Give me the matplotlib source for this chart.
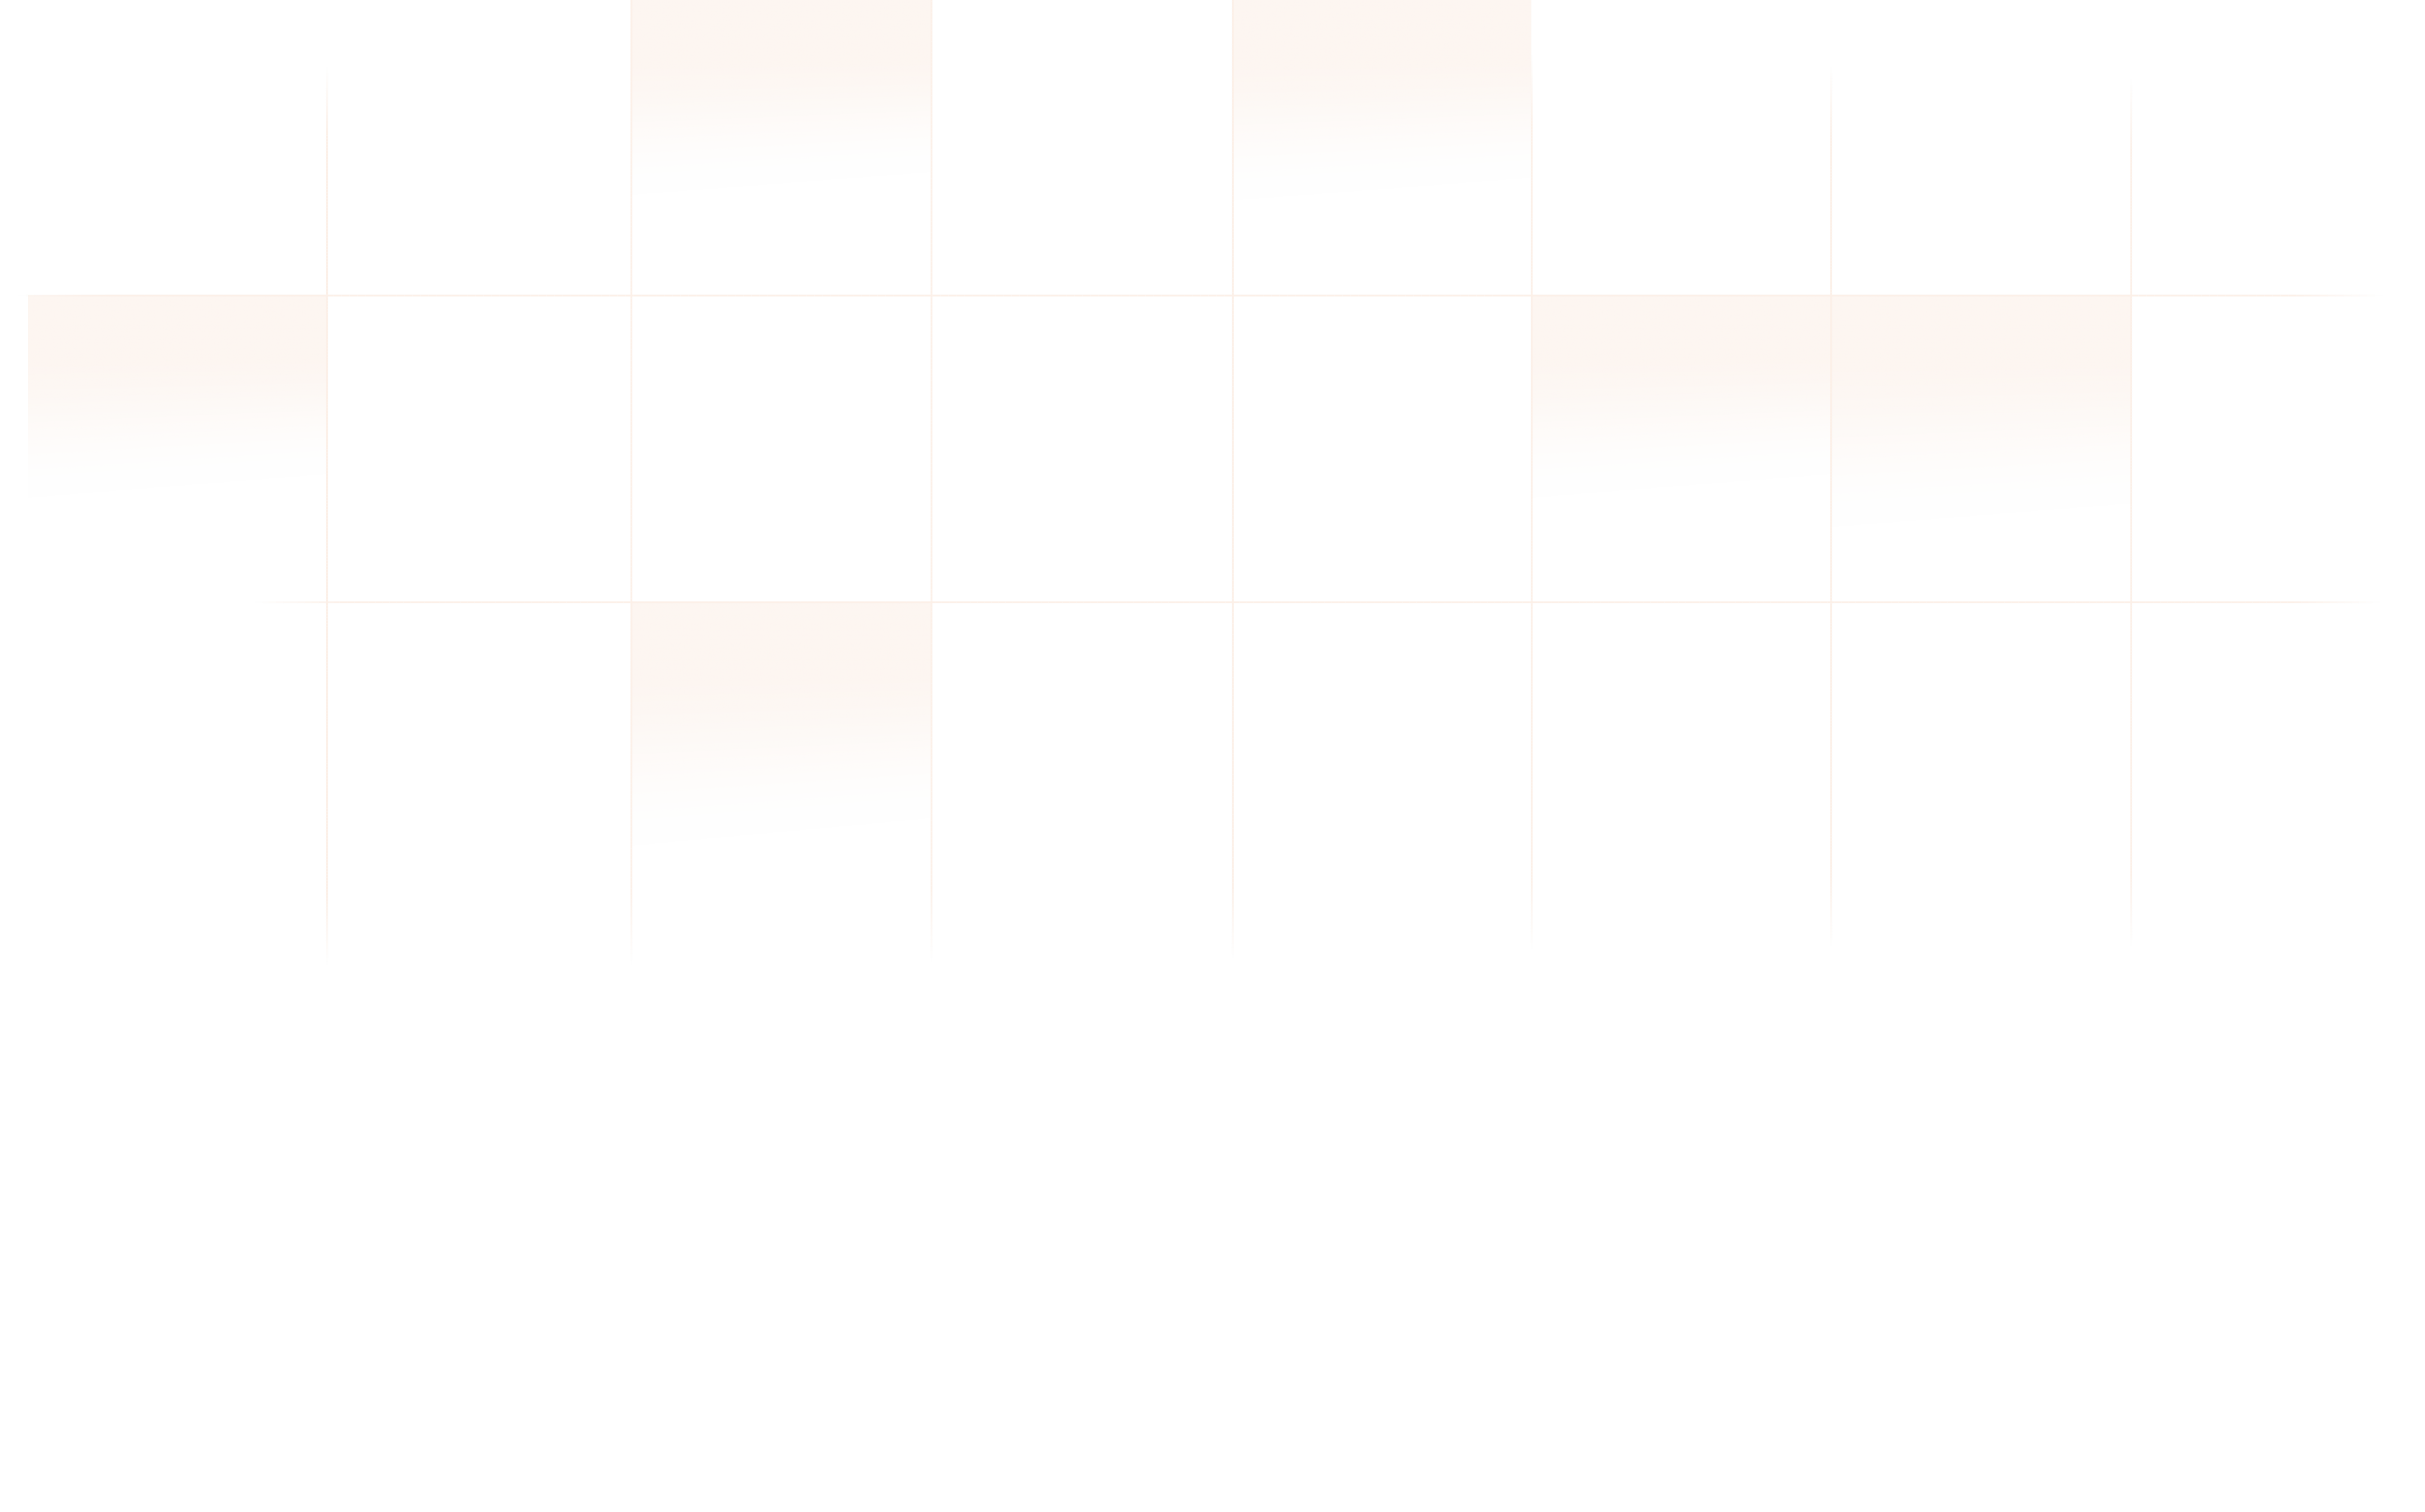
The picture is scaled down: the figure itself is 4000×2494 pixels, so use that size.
import numpy as np
import matplotlib
matplotlib.use("Agg")
from matplotlib import pyplot as plt
from matplotlib.collections import LineCollection
from matplotlib.colors import to_rgb

# grid layout (pixel coords, y down)
col_edges = [46, 539, 1041, 1536, 2033, 2526, 3020, 3515, 3912]
row_edges = [0, 487, 993, 1585]

# which cells carry the soft peach tint
tint_cols = [2, 4, 0, 5, 6, 2]
tint_rows = [0, 0, 1, 1, 1, 2]
tint_depth = [0.68, 0.70, 0.68, 0.68, 0.78, 0.70]

# vertical grid lines: x, top end, bottom end
vline_x = [539, 1041, 1536, 2033, 2526, 3020, 3515]
vline_top = [110, -200, -200, -200, 90, 110, 130]
vline_bottom = [1590, 1590, 1585, 1580, 1565, 1560, 1560]

# horizontal grid lines: y, left end, right end
hline_y = [487, 993]
hline_left = [30, 420]
hline_right = [3930, 3925]

line_color = '#fcf0e8'
tint_color = '#fdf6f1'

fig = plt.figure(figsize=(40, 24.94), dpi=100)
fig.patch.set_facecolor('white')
ax = fig.add_axes([0, 0, 1, 1])
ax.set_xlim(0, 4000)
ax.set_ylim(2494, 0)
ax.axis('off')


def faded_line(p0, p1, fade=120, n=300):
    t = np.linspace(0, 1, n + 1)
    xs = p0[0] + (p1[0] - p0[0]) * t
    ys = p0[1] + (p1[1] - p0[1]) * t
    length = np.hypot(p1[0] - p0[0], p1[1] - p0[1])
    d = np.minimum(t, 1 - t) * length
    a = np.clip(d / fade, 0, 1)
    a = 0.5 * (a[:-1] + a[1:])
    segs = [[(xs[i], ys[i]), (xs[i + 1], ys[i + 1])] for i in range(n)]
    rgb = to_rgb(line_color)
    cols = [(rgb[0], rgb[1], rgb[2], v) for v in a]
    ax.add_collection(LineCollection(segs, colors=cols, linewidths=2.2, zorder=3))


# tinted cells: solid at the top, fading to white with a slight tilt
rgb = np.array(to_rgb(tint_color))
for c, r, depth in zip(tint_cols, tint_rows, tint_depth):
    x0, x1 = col_edges[c], col_edges[c + 1]
    y0, y1 = row_edges[r], row_edges[r + 1]
    yy, xx = np.mgrid[0:1:200j, 0:1:200j]
    end = depth - 0.08 * xx
    start = 0.15
    a = np.clip(1 - (yy - start) / (end - start), 0, 1)
    a = a * a * (3 - 2 * a)
    img = np.zeros((200, 200, 4))
    img[..., :3] = rgb
    img[..., 3] = a
    ax.imshow(img, extent=(x0, x1, y1, y0), interpolation='bilinear', zorder=1, aspect='auto')

for x, top, bot in zip(vline_x, vline_top, vline_bottom):
    faded_line((x, top), (x, bot))

for y, left, right in zip(hline_y, hline_left, hline_right):
    faded_line((left, y), (right, y), fade=150)

ax.set_xlim(0, 4000)
ax.set_ylim(2494, 0)
fig.savefig('out.png', dpi=100, facecolor='white')
plt.close(fig)
